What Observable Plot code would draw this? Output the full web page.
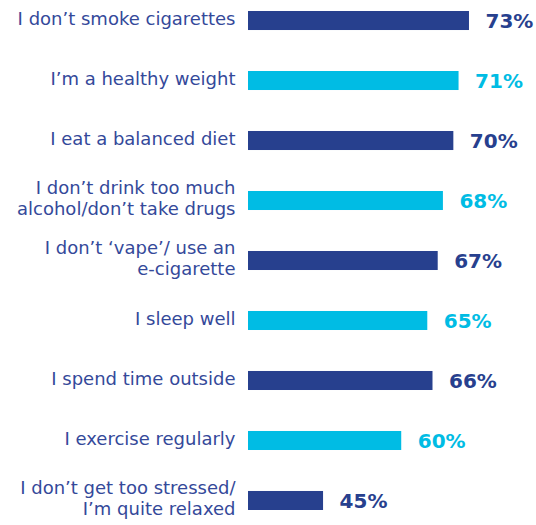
<!DOCTYPE html>
<html>
<head>
<meta charset="utf-8">
<script src="https://cdn.jsdelivr.net/npm/d3@7"></script>
<script src="https://cdn.jsdelivr.net/npm/@observablehq/plot@0.6"></script>
<style>
  html, body { margin: 0; padding: 0; background: #ffffff; }
  #chart svg { display: block; }
</style>
</head>
<body>
<div id="chart"></div>
<script>
const labels = [
  "I don’t smoke cigarettes",
  "I’m a healthy weight",
  "I eat a balanced diet",
  "I don’t drink too much\nalcohol/don’t take drugs",
  "I don’t ‘vape’/ use an\ne-cigarette",
  "I sleep well",
  "I spend time outside",
  "I exercise regularly",
  "I don’t get too stressed/\nI’m quite relaxed"
];
const values = [73, 71, 70, 68, 67, 65, 66, 60, 45];

const data = labels.map((label, i) => ({label, value: values[i]}));

const navy = "#27408e";
const cyan = "#00bce4";
const textColor = "#34499a";
const colorOf = (d, i) => (i % 2 ? cyan : navy);

const chart = Plot.plot({
  width: 536,
  height: 525,
  marginLeft: 248,
  marginRight: 0,
  marginTop: 11,
  marginBottom: 15,
  style: {fontFamily: "'DejaVu Sans', sans-serif", background: "#ffffff"},
  x: {domain: [30.6, 85.86], axis: null},
  y: {domain: labels, paddingInner: 0.683, paddingOuter: 0, round: false, label: null},
  marks: [
    Plot.barX(data, {x: "value", y: "label", fill: colorOf, clip: true}),
    Plot.axisY({
      tickSize: 0,
      tickPadding: 13,
      fontSize: 18,
      lineHeight: 1.17,
      fill: textColor,
      dy: -3,
      label: null
    }),
    Plot.text(data, {
      x: "value",
      y: "label",
      text: d => d.value + "%",
      dx: 16,
      dy: 1,
      textAnchor: "start",
      fill: colorOf,
      fontSize: 20,
      fontWeight: "bold"
    })
  ]
});

document.getElementById("chart").appendChild(chart);
</script>
</body>
</html>
